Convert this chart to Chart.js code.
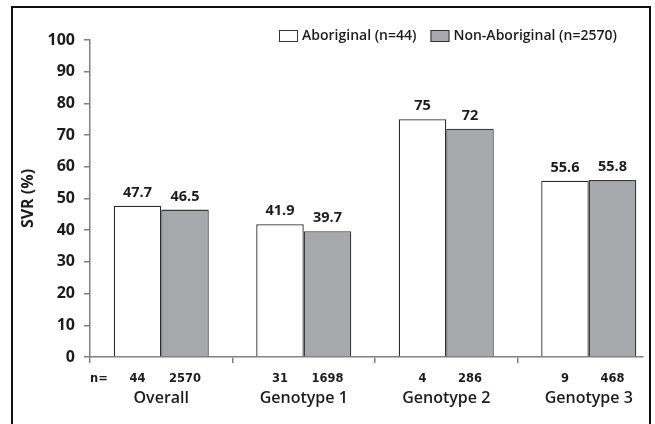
<!DOCTYPE html>
<html>
<head>
<meta charset="utf-8">
<script src="https://cdn.jsdelivr.net/npm/chart.js@4.4.1/dist/chart.umd.min.js"></script>
<style>
  html, body { margin: 0; padding: 0; background: #fff; overflow: hidden; }
  #wrap { position: relative; width: 655px; height: 424px; }
  #c { position: absolute; left: 0; top: 0; }
  #frame { position: absolute; left: 11px; top: 6px; width: 636px; height: 440px; border: 2px solid #111; pointer-events: none; }
</style>
</head>
<body>
<div id="wrap">
  <canvas id="c" width="655" height="424"></canvas>
  <div id="frame"></div>
</div>
<script>
const categories = ['Overall', 'Genotype 1', 'Genotype 2', 'Genotype 3'];
const seriesLabels = ['Aboriginal (n=44)', 'Non-Aboriginal (n=2570)'];
const aboriginal = [47.7, 41.9, 75, 55.6];
const nonAboriginal = [46.5, 39.7, 72, 55.8];
const nAboriginal = [44, 31, 4, 9];
const nNonAboriginal = [2570, 1698, 286, 468];
const yTicks = [0, 10, 20, 30, 40, 50, 60, 70, 80, 90, 100];

const AXIS = '#7f7f7f';
const TEXT = '#1c1c1c';
const FONT = "'Open Sans', 'DejaVu Sans', sans-serif";
const NFONT = "bold 11.5px 'DejaVu Sans', Verdana, sans-serif";

const nCounts = [nAboriginal, nNonAboriginal];

// category boundaries on a linear index axis
const xBoundaries = categories.map((c, i) => i - 0.5);

const labelsPlugin = {
  id: 'labelsPlugin',
  afterDatasetsDraw(chart) {
    const ctx = chart.ctx;
    const xs = chart.scales.x;
    ctx.save();
    chart.data.datasets.forEach((ds, di) => {
      const meta = chart.getDatasetMeta(di);
      meta.data.forEach((bar, i) => {
        ctx.fillStyle = TEXT;
        ctx.font = "bold 14.5px " + FONT;
        ctx.textAlign = 'center';
        ctx.textBaseline = 'alphabetic';
        ctx.fillText(String(ds.data[i].y), bar.x, bar.y - 9);
        ctx.font = NFONT;
        ctx.textBaseline = 'middle';
        ctx.fillText(String(nCounts[di][i]), bar.x, 379);
      });
    });
    ctx.font = NFONT;
    ctx.textAlign = 'left';
    ctx.textBaseline = 'middle';
    ctx.fillStyle = TEXT;
    ctx.fillText('n=', 90, 379);

    // category names
    ctx.font = "600 16px " + FONT;
    ctx.textAlign = 'center';
    categories.forEach((c, i) => {
      ctx.fillText(c, xs.getPixelForValue(i), 398);
    });

    // legend
    let x = 279;
    const boxW = 19, boxH = 12, yTop = 30;
    ctx.font = "600 14px " + FONT;
    chart.data.datasets.forEach((ds) => {
      ctx.fillStyle = ds.backgroundColor;
      ctx.fillRect(x, yTop, boxW, boxH);
      ctx.strokeStyle = '#333';
      ctx.lineWidth = 1;
      ctx.strokeRect(x + 0.5, yTop + 0.5, boxW - 1, boxH - 1);
      ctx.fillStyle = TEXT;
      ctx.textAlign = 'left';
      ctx.textBaseline = 'middle';
      ctx.fillText(ds.label, x + boxW + 4, yTop + boxH / 2 + 0.5);
      x += boxW + 4 + ctx.measureText(ds.label).width + 14;
    });
    ctx.restore();
  }
};

new Chart(document.getElementById('c'), {
  type: 'bar',
  data: {
    datasets: [
      {
        label: seriesLabels[0],
        data: aboriginal.map((v, i) => ({ x: i, y: v })),
        backgroundColor: '#ffffff',
        borderColor: '#2b2b2b',
        borderWidth: 1.3,
        categoryPercentage: 0.667,
        barPercentage: 1.0
      },
      {
        label: seriesLabels[1],
        data: nonAboriginal.map((v, i) => ({ x: i, y: v })),
        backgroundColor: '#a7a8ac',
        borderColor: '#3a3a3a',
        borderWidth: 1.3,
        categoryPercentage: 0.667,
        barPercentage: 1.0
      }
    ]
  },
  options: {
    responsive: false,
    devicePixelRatio: 1,
    animation: false,
    layout: { padding: { top: 40, right: 12, left: 0, bottom: 0 } },
    plugins: { legend: { display: false }, tooltip: { enabled: false } },
    scales: {
      x: {
        type: 'linear',
        offset: false,
        min: -0.5,
        max: -0.5 + 553 / 142.5,
        afterBuildTicks: (axis) => { axis.ticks = xBoundaries.map(v => ({ value: v })); },
        afterFit: (s) => { s.height = 67; },
        grid: {
          offset: false,
          drawOnChartArea: false,
          drawTicks: true,
          tickLength: 6,
          lineWidth: 1.5,
          color: AXIS
        },
        border: { display: true, color: AXIS, width: 1.5 },
        ticks: { autoSkip: false, maxRotation: 0, callback: () => '' }
      },
      y: {
        min: 0,
        max: 100,
        afterBuildTicks: (axis) => { axis.ticks = yTicks.map(v => ({ value: v })); },
        afterFit: (s) => { s.width = 90; },
        grid: { drawOnChartArea: false, drawTicks: true, tickLength: 6, lineWidth: 1.5, color: AXIS },
        border: { display: true, color: AXIS, width: 1.5 },
        ticks: {
          padding: 9,
          color: TEXT,
          font: { family: FONT, size: 16, weight: 'bold' }
        },
        title: {
          display: true,
          text: 'SVR (%)',
          color: TEXT,
          font: { family: FONT, size: 16, weight: 'bold' },
          padding: { top: 19, bottom: 0 }
        }
      }
    }
  },
  plugins: [labelsPlugin]
});
</script>
</body>
</html>
